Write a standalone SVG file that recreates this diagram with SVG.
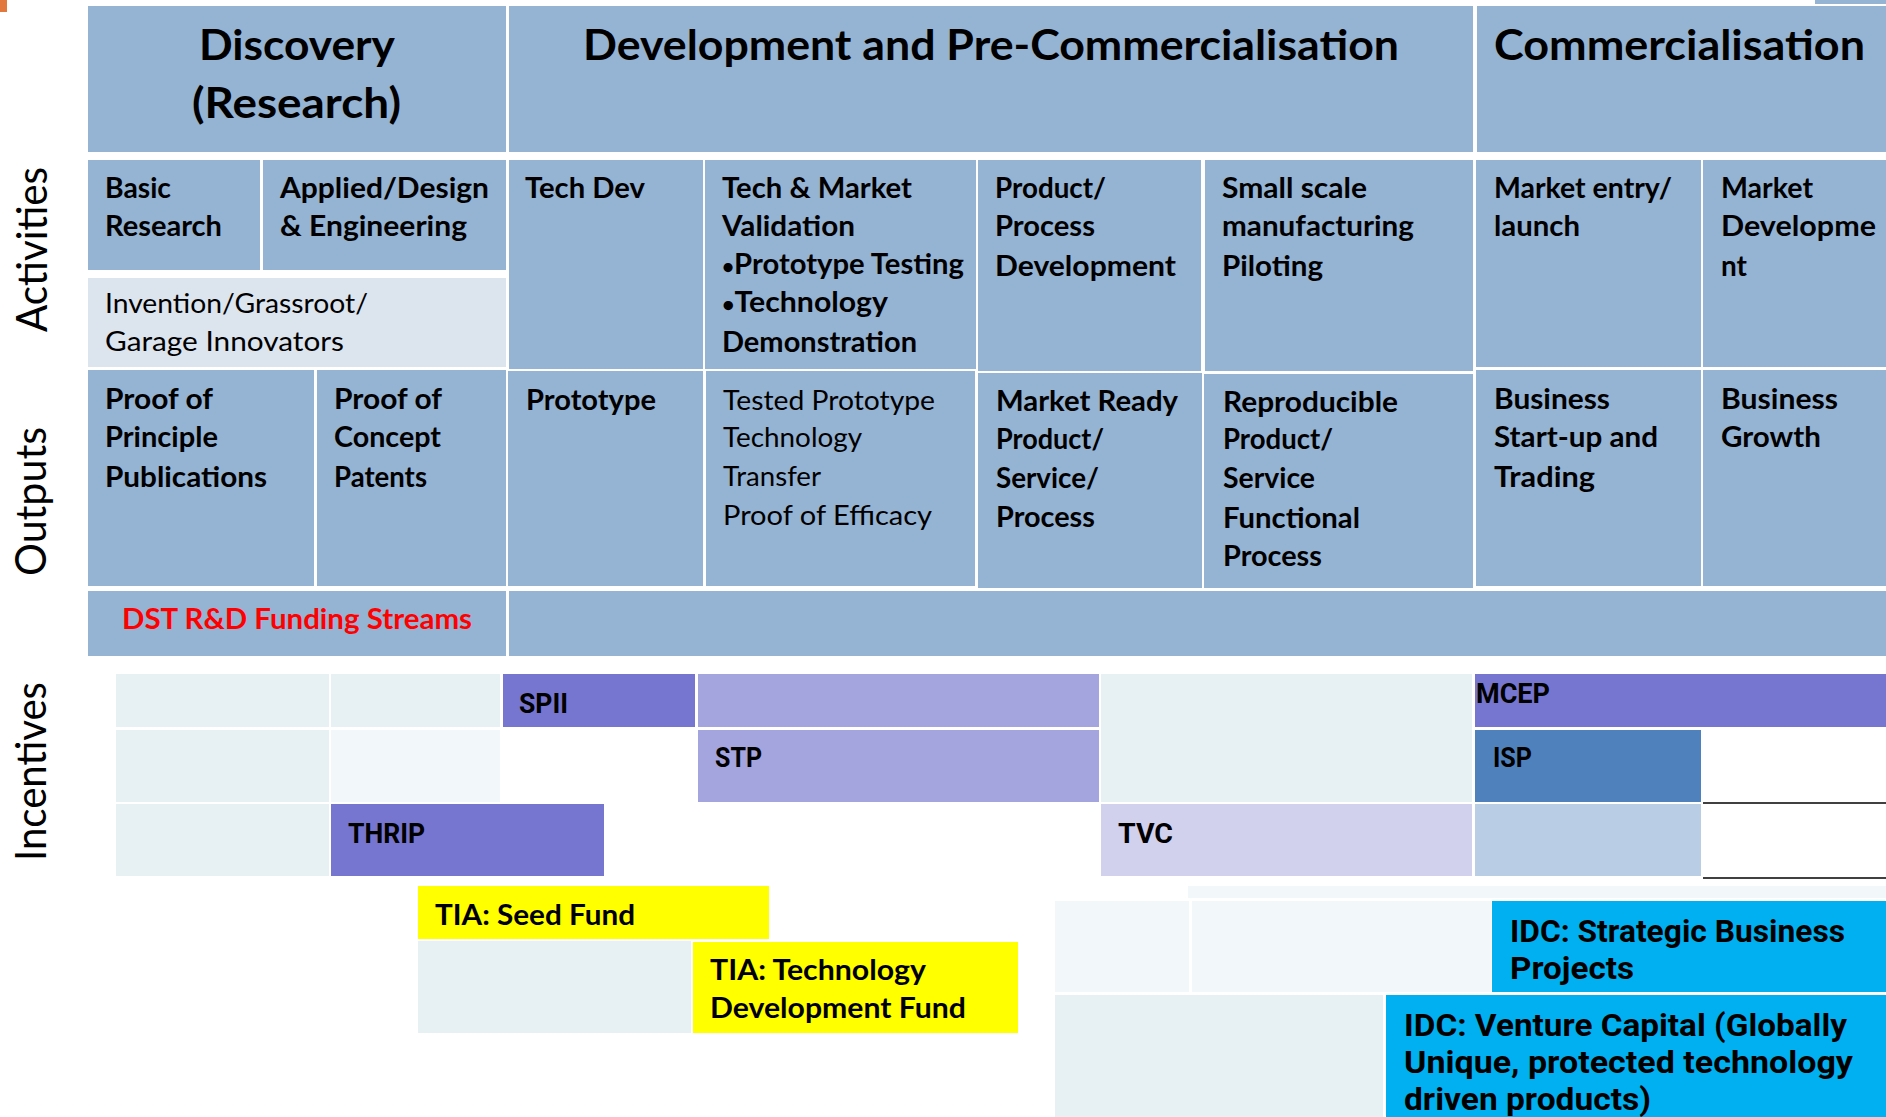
<svg xmlns="http://www.w3.org/2000/svg" width="1886" height="1117" viewBox="0 0 1886 1117">
<style>
.blue{fill:#95b3d3}
.inv{fill:#dce4ee}
.lt{fill:#e7f1f3}
.lt2{fill:#f2f7f9}
.pur{fill:#7676d0}
.lpur{fill:#a4a4de}
.tvc{fill:#d1d1ee}
.isp{fill:#4f81bd}
.lblue{fill:#b9cde4}
.yel{fill:#ffff00}
.cyan{fill:#00b0f0}
text{fill:#000}
.hdr{font-family:Lato,'Noto Sans',sans-serif;font-weight:700;font-size:42px}
.side{font-family:Lato,'Noto Sans',sans-serif;font-weight:400;font-size:42px}
.b{font-family:Lato,'Noto Sans',sans-serif;font-weight:700;font-size:28px}
.r{font-family:Lato,'Noto Sans',sans-serif;font-weight:400;font-size:27px}
.red{fill:#ff0000}
.bul{font-size:20px}
.inc{font-family:Roboto,'Liberation Sans',sans-serif;font-weight:700;font-size:27px}
.idc{font-family:Roboto,'Liberation Sans',sans-serif;font-weight:700;font-size:31px}
</style>
<rect width="1886" height="1117" fill="#ffffff"/>
<rect x="0" y="0" width="7" height="12" fill="#e3783c"/>
<rect x="1815" y="0" width="71" height="4" class="blue"/>

<g id="side-labels">
<text class="side" text-anchor="middle" transform="translate(47,249.5) rotate(-90)" textLength="165" lengthAdjust="spacingAndGlyphs">Activities</text>
<text class="side" text-anchor="middle" transform="translate(46,501.5) rotate(-90)" textLength="149" lengthAdjust="spacingAndGlyphs">Outputs</text>
<text class="side" text-anchor="middle" transform="translate(46,771.5) rotate(-90)" textLength="179" lengthAdjust="spacingAndGlyphs">Incentives</text>
</g>

<g id="hdr-discovery">
<rect x="88" y="6" width="418" height="146" class="blue"/>
<text class="hdr" x="199" y="60" textLength="196" lengthAdjust="spacingAndGlyphs">Discovery</text>
<text class="hdr" x="192" y="118" textLength="209" lengthAdjust="spacingAndGlyphs">(Research)</text>
</g>
<g id="hdr-development">
<rect x="509" y="6" width="964" height="146" class="blue"/>
<text class="hdr" x="583" y="60" textLength="816" lengthAdjust="spacingAndGlyphs">Development and Pre-Commercialisation</text>
</g>
<g id="hdr-commercialisation">
<rect x="1477" y="6" width="409" height="146" class="blue"/>
<text class="hdr" x="1494" y="60" textLength="371" lengthAdjust="spacingAndGlyphs">Commercialisation</text>
</g>

<g id="act-basic">
<rect x="88" y="160" width="172" height="110" class="blue"/>
<text class="b" x="105" y="198" textLength="66" lengthAdjust="spacingAndGlyphs">Basic</text>
<text class="b" x="105" y="236" textLength="117" lengthAdjust="spacingAndGlyphs">Research</text>
</g>
<g id="act-applied">
<rect x="263" y="160" width="243" height="110" class="blue"/>
<text class="b" x="280" y="198" textLength="209" lengthAdjust="spacingAndGlyphs">Applied/Design</text>
<text class="b" x="280" y="236" textLength="187" lengthAdjust="spacingAndGlyphs">&amp; Engineering</text>
</g>
<g id="act-invention">
<rect x="88" y="278" width="418" height="89" class="inv"/>
<text class="r" x="105" y="313" textLength="263" lengthAdjust="spacingAndGlyphs">Invention/Grassroot/</text>
<text class="r" x="105" y="351" textLength="239" lengthAdjust="spacingAndGlyphs">Garage Innovators</text>
</g>
<g id="act-techdev">
<rect x="509" y="160" width="194" height="209" class="blue"/>
<text class="b" x="525" y="198" textLength="120" lengthAdjust="spacingAndGlyphs">Tech Dev</text>
</g>
<g id="act-validation">
<rect x="705" y="160" width="271" height="209" class="blue"/>
<text class="b" x="722" y="198" textLength="190" lengthAdjust="spacingAndGlyphs">Tech &amp; Market</text>
<text class="b" x="722" y="236" textLength="133" lengthAdjust="spacingAndGlyphs">Validation</text>
<text class="b" x="722" y="274" textLength="242" lengthAdjust="spacingAndGlyphs"><tspan class="bul">•</tspan><tspan>Prototype Testing</tspan></text>
<text class="b" x="722" y="312" textLength="166" lengthAdjust="spacingAndGlyphs"><tspan class="bul">•</tspan><tspan>Technology</tspan></text>
<text class="b" x="722" y="352" textLength="195" lengthAdjust="spacingAndGlyphs">Demonstration</text>
</g>
<g id="act-product">
<rect x="978" y="160" width="223" height="211" class="blue"/>
<text class="b" x="995" y="198" textLength="111" lengthAdjust="spacingAndGlyphs">Product/</text>
<text class="b" x="995" y="236" textLength="100" lengthAdjust="spacingAndGlyphs">Process</text>
<text class="b" x="995" y="276" textLength="181" lengthAdjust="spacingAndGlyphs">Development</text>
</g>
<g id="act-smallscale">
<rect x="1205" y="160" width="268" height="211" class="blue"/>
<text class="b" x="1222" y="198" textLength="145" lengthAdjust="spacingAndGlyphs">Small scale</text>
<text class="b" x="1222" y="236" textLength="192" lengthAdjust="spacingAndGlyphs">manufacturing</text>
<text class="b" x="1222" y="276" textLength="101" lengthAdjust="spacingAndGlyphs">Piloting</text>
</g>
<g id="act-marketentry">
<rect x="1476" y="160" width="225" height="207" class="blue"/>
<text class="b" x="1494" y="198" textLength="178" lengthAdjust="spacingAndGlyphs">Market entry/</text>
<text class="b" x="1494" y="236" textLength="86" lengthAdjust="spacingAndGlyphs">launch</text>
</g>
<g id="act-marketdev">
<rect x="1703" y="160" width="183" height="207" class="blue"/>
<text class="b" x="1721" y="198" textLength="92" lengthAdjust="spacingAndGlyphs">Market</text>
<text class="b" x="1721" y="236" textLength="155" lengthAdjust="spacingAndGlyphs">Developme</text>
<text class="b" x="1721" y="276" textLength="26" lengthAdjust="spacingAndGlyphs">nt</text>
</g>

<g id="out-principle">
<rect x="88" y="370" width="226" height="216" class="blue"/>
<text class="b" x="105" y="409" textLength="108" lengthAdjust="spacingAndGlyphs">Proof of</text>
<text class="b" x="105" y="447" textLength="113" lengthAdjust="spacingAndGlyphs">Principle</text>
<text class="b" x="105" y="487" textLength="162" lengthAdjust="spacingAndGlyphs">Publications</text>
</g>
<g id="out-concept">
<rect x="317" y="370" width="189" height="216" class="blue"/>
<text class="b" x="334" y="409" textLength="108" lengthAdjust="spacingAndGlyphs">Proof of</text>
<text class="b" x="334" y="447" textLength="107" lengthAdjust="spacingAndGlyphs">Concept</text>
<text class="b" x="334" y="487" textLength="93" lengthAdjust="spacingAndGlyphs">Patents</text>
</g>
<g id="out-prototype">
<rect x="508" y="371" width="195" height="215" class="blue"/>
<text class="b" x="526" y="410" textLength="130" lengthAdjust="spacingAndGlyphs">Prototype</text>
</g>
<g id="out-tested">
<rect x="706" y="371" width="269" height="215" class="blue"/>
<text class="r" x="723" y="410" textLength="212" lengthAdjust="spacingAndGlyphs">Tested Prototype</text>
<text class="r" x="723" y="447" textLength="139" lengthAdjust="spacingAndGlyphs">Technology</text>
<text class="r" x="723" y="486" textLength="98" lengthAdjust="spacingAndGlyphs">Transfer</text>
<text class="r" x="723" y="525" textLength="209" lengthAdjust="spacingAndGlyphs">Proof of Efficacy</text>
</g>
<g id="out-marketready">
<rect x="978" y="373" width="224" height="215" class="blue"/>
<text class="b" x="996" y="411" textLength="182" lengthAdjust="spacingAndGlyphs">Market Ready</text>
<text class="b" x="996" y="449" textLength="108" lengthAdjust="spacingAndGlyphs">Product/</text>
<text class="b" x="996" y="488" textLength="103" lengthAdjust="spacingAndGlyphs">Service/</text>
<text class="b" x="996" y="527" textLength="99" lengthAdjust="spacingAndGlyphs">Process</text>
</g>
<g id="out-reproducible">
<rect x="1204" y="374" width="269" height="214" class="blue"/>
<text class="b" x="1223" y="412" textLength="175" lengthAdjust="spacingAndGlyphs">Reproducible</text>
<text class="b" x="1223" y="449" textLength="110" lengthAdjust="spacingAndGlyphs">Product/</text>
<text class="b" x="1223" y="488" textLength="92" lengthAdjust="spacingAndGlyphs">Service</text>
<text class="b" x="1223" y="528" textLength="137" lengthAdjust="spacingAndGlyphs">Functional</text>
<text class="b" x="1223" y="566" textLength="99" lengthAdjust="spacingAndGlyphs">Process</text>
</g>
<g id="out-startup">
<rect x="1476" y="370" width="225" height="216" class="blue"/>
<text class="b" x="1494" y="409" textLength="116" lengthAdjust="spacingAndGlyphs">Business</text>
<text class="b" x="1494" y="447" textLength="164" lengthAdjust="spacingAndGlyphs">Start-up and</text>
<text class="b" x="1494" y="487" textLength="101" lengthAdjust="spacingAndGlyphs">Trading</text>
</g>
<g id="out-growth">
<rect x="1703" y="370" width="183" height="216" class="blue"/>
<text class="b" x="1721" y="409" textLength="117" lengthAdjust="spacingAndGlyphs">Business</text>
<text class="b" x="1721" y="447" textLength="100" lengthAdjust="spacingAndGlyphs">Growth</text>
</g>

<g id="dst-label">
<rect x="88" y="591" width="418" height="65" class="blue"/>
<text class="b red" x="122" y="629" font-size="28" textLength="350" lengthAdjust="spacingAndGlyphs">DST R&amp;D Funding Streams</text>
</g>
<g id="dst-bar">
<rect x="509" y="591" width="1377" height="65" class="blue"/>
</g>

<g id="inc-grid">
<rect x="116" y="674" width="213" height="53" class="lt"/>
<rect x="331" y="674" width="169" height="53" class="lt"/>
<rect x="116" y="730" width="213" height="72" class="lt"/>
<rect x="331" y="730" width="169" height="72" class="lt2"/>
<rect x="116" y="804" width="213" height="72" class="lt"/>
<rect x="1101" y="674" width="371" height="128" class="lt"/>
<rect x="1475" y="804" width="226" height="72" class="lblue"/>
<rect x="418" y="941" width="273" height="92" class="lt"/>
<rect x="1188" y="886" width="698" height="12" class="lt2"/>
<rect x="1055" y="901" width="134" height="91" class="lt2"/>
<rect x="1192" y="901" width="299" height="91" class="lt2"/>
<rect x="1055" y="995" width="328" height="122" class="lt"/>
</g>
<g id="inc-spii">
<rect x="503" y="674" width="192" height="53" class="pur"/>
<text class="inc" x="519" y="713" textLength="49" lengthAdjust="spacingAndGlyphs">SPII</text>
</g>
<g id="inc-stp">
<rect x="698" y="674" width="401" height="53" class="lpur"/>
<rect x="698" y="730" width="401" height="72" class="lpur"/>
<text class="inc" x="715" y="767" textLength="47" lengthAdjust="spacingAndGlyphs">STP</text>
</g>
<g id="inc-thrip">
<rect x="331" y="804" width="273" height="72" class="pur"/>
<text class="inc" x="348" y="843" textLength="77" lengthAdjust="spacingAndGlyphs">THRIP</text>
</g>
<g id="inc-tvc">
<rect x="1101" y="804" width="371" height="72" class="tvc"/>
<text class="inc" x="1118" y="843" textLength="55" lengthAdjust="spacingAndGlyphs">TVC</text>
</g>
<g id="inc-mcep">
<rect x="1475" y="674" width="411" height="53" class="pur"/>
<text class="inc" x="1476" y="703" textLength="74" lengthAdjust="spacingAndGlyphs">MCEP</text>
</g>
<g id="inc-isp">
<rect x="1475" y="730" width="226" height="72" class="isp"/>
<text class="inc" x="1493" y="767" textLength="39" lengthAdjust="spacingAndGlyphs">ISP</text>
</g>
<g id="inc-tia-seed">
<rect x="418" y="886" width="351" height="53" class="yel"/>
<text class="b" x="435" y="925" textLength="200" lengthAdjust="spacingAndGlyphs">TIA: Seed Fund</text>
</g>
<g id="inc-tia-tdf">
<rect x="693" y="942" width="325" height="91" class="yel"/>
<text class="b" x="710" y="980" textLength="216" lengthAdjust="spacingAndGlyphs">TIA: Technology</text>
<text class="b" x="710" y="1018" textLength="256" lengthAdjust="spacingAndGlyphs">Development Fund</text>
</g>
<g id="inc-idc-sbp">
<rect x="1492" y="901" width="394" height="91" class="cyan"/>
<text class="idc" x="1510" y="942" textLength="335" lengthAdjust="spacingAndGlyphs">IDC: Strategic Business</text>
<text class="idc" x="1510" y="979" textLength="124" lengthAdjust="spacingAndGlyphs">Projects</text>
</g>
<g id="inc-idc-vc">
<rect x="1386" y="995" width="500" height="122" class="cyan"/>
<text class="idc" x="1404" y="1036" textLength="443" lengthAdjust="spacingAndGlyphs">IDC: Venture Capital (Globally</text>
<text class="idc" x="1404" y="1073" textLength="449" lengthAdjust="spacingAndGlyphs">Unique, protected technology</text>
<text class="idc" x="1404" y="1110" textLength="247" lengthAdjust="spacingAndGlyphs">driven products)</text>
</g>

<g id="connectors">
<line x1="1703" y1="803" x2="1886" y2="803" stroke="#000" stroke-width="1.5"/>
<line x1="1703" y1="878" x2="1886" y2="878" stroke="#000" stroke-width="1.5"/>
</g>
</svg>
